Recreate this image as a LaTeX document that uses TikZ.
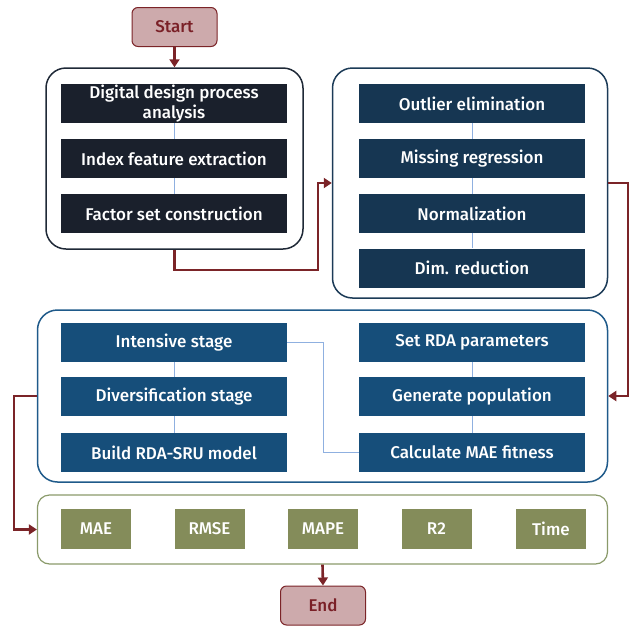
\documentclass[tikz,border=0pt]{standalone}
\usepackage{fontspec}
\setmainfont{Fira Sans Medium}
\usetikzlibrary{arrows.meta,calc}
\definecolor{redarrow}{RGB}{123,36,40}
\definecolor{termfill}{RGB}{205,170,172}
\definecolor{termtext}{RGB}{122,32,39}
\definecolor{gonebox}{RGB}{26,32,44}
\definecolor{gtwobox}{RGB}{22,54,82}
\definecolor{gthreebox}{RGB}{22,78,122}
\definecolor{gfourbox}{RGB}{132,140,90}
\definecolor{gonebd}{RGB}{31,41,55}
\definecolor{gtwobd}{RGB}{28,59,87}
\definecolor{gthreebd}{RGB}{31,90,138}
\definecolor{gfourbd}{RGB}{138,154,106}
\definecolor{thinblue}{RGB}{143,176,224}
\begin{document}
\begin{tikzpicture}[x=1pt,y=-1pt,
  term/.style={draw=redarrow,fill=termfill,line width=1pt,rounded corners=6pt,
    minimum width=85pt,minimum height=39pt,text=termtext,font=\fontsize{17}{19}\selectfont,inner sep=0pt},
  grp/.style={line width=1.5pt,rounded corners=20pt,inner sep=0pt},
  box/.style={minimum width=226pt,minimum height=39pt,text=white,inner sep=0pt,align=center,
    font=\fontsize{17}{19}\selectfont},
  mbox/.style={minimum width=70pt,minimum height=40pt,fill=gfourbox,text=white,inner sep=0pt,
    font=\fontsize{17}{19}\selectfont},
  flow/.style={draw=redarrow,line width=2.6pt,-{Triangle[length=8pt,width=10pt]}},
  thin/.style={draw=thinblue,line width=0.6pt}]
\useasboundingbox (0,0) rectangle (633,625);

% terminals
\node[term] (start) at (174.5,27) {Start};
\node[term] (end) at (323,605.5) {End};

% groups
\node[grp,draw=gonebd,minimum width=257pt,minimum height=181pt] (g1) at (174.5,158.5) {};
\node[grp,draw=gtwobd,minimum width=275pt,minimum height=230pt] (g2) at (470,183) {};
\node[grp,draw=gthreebd,minimum width=570pt,minimum height=172pt] (g3) at (322.5,396) {};
\node[grp,draw=gfourbd,line width=1.2pt,rounded corners=12pt,minimum width=570pt,minimum height=69pt] (g4) at (322.5,529.5) {};

% group 1 boxes
\node[box,fill=gonebox,font=\fontsize{17}{20.5}\selectfont] (a1) at (174,103.5) {Digital design process\\analysis};
\node[box,fill=gonebox] (a2) at (174,158.5) {Index feature extraction};
\node[box,fill=gonebox] (a3) at (174,213.5) {Factor set construction};

% group 2 boxes
\node[box,fill=gtwobox] (b1) at (472,103.5) {Outlier elimination};
\node[box,fill=gtwobox] (b2) at (472,158.5) {Missing regression};
\node[box,fill=gtwobox] (b3) at (472,213.5) {Normalization};
\node[box,fill=gtwobox] (b4) at (472,268) {Dim. reduction};

% group 3 boxes
\node[box,fill=gthreebox] (l1) at (174,342.5) {Intensive stage};
\node[box,fill=gthreebox] (l2) at (174,396.5) {Diversification stage};
\node[box,fill=gthreebox] (l3) at (174,452.5) {Build RDA-SRU model};
\node[box,fill=gthreebox] (r1) at (472,342.5) {Set RDA parameters};
\node[box,fill=gthreebox] (r2) at (472,396.5) {Generate population};
\node[box,fill=gthreebox] (r3) at (472,452.5) {Calculate MAE fitness};

% group 4 boxes
\node[mbox] (m1) at (96,529) {MAE};
\node[mbox] (m2) at (209.5,529) {RMSE};
\node[mbox] (m3) at (323,529) {MAPE};
\node[mbox] (m4) at (436.5,529) {R2};
\node[mbox] (m5) at (551,529) {Time};

% thin connectors
\draw[thin] (a1) -- (a2);
\draw[thin] (a2) -- (a3);
\draw[thin] (b1) -- (b2);
\draw[thin] (b2) -- (b3);
\draw[thin] (b3) -- (b4);
\draw[thin] (l1) -- (l2);
\draw[thin] (l2) -- (l3);
\draw[thin] (r1) -- (r2);
\draw[thin] (r2) -- (r3);
\coordinate (mid) at (323,0);
\draw[thin] (l1.east) -| (mid |- r3.west) -- (r3.west);

% flow arrows
\coordinate (k1) at (318,270);
\coordinate (k2) at (628,183);
\coordinate (k3) at (14,396);
\draw[flow] (start) -- (g1);
\draw[flow] (g1.south) |- (k1) |- (g2.west);
\draw[flow] (g2.east) -- (k2) |- (g3.east);
\draw[flow] (g3.west) -- (k3) |- (g4.west);
\draw[flow] (g4.south) -- (end.north);
\end{tikzpicture}
\end{document}
